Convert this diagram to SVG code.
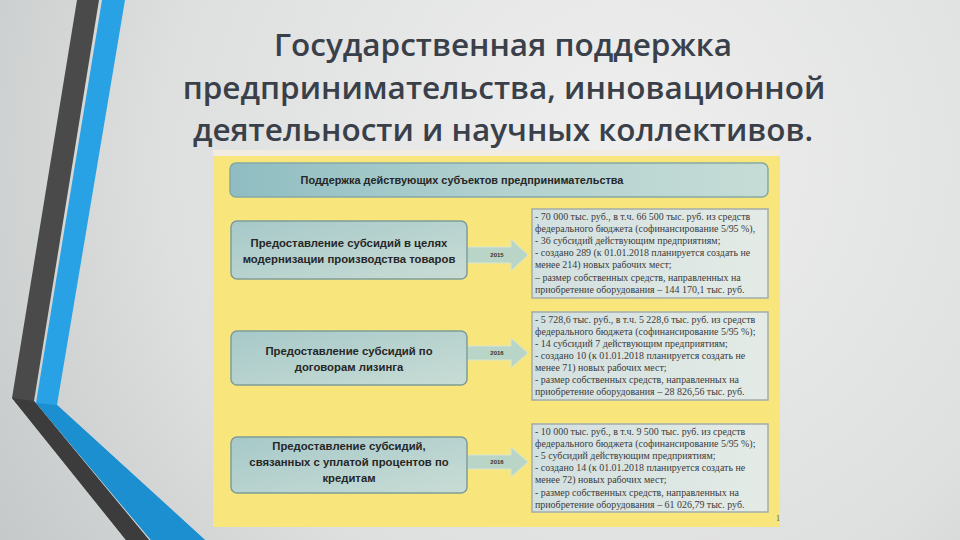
<svg xmlns="http://www.w3.org/2000/svg" width="960" height="540" viewBox="0 0 960 540">
<defs>
<radialGradient id="bg" cx="620" cy="160" r="760" gradientUnits="userSpaceOnUse">
<stop offset="0" stop-color="#efefef"/>
<stop offset="0.6" stop-color="#dedfdf"/>
<stop offset="1" stop-color="#c2c6c6"/>
</radialGradient>
<linearGradient id="hdr" x1="0" y1="0" x2="1" y2="0">
<stop offset="0" stop-color="#8fbdc1"/>
<stop offset="0.5" stop-color="#b2d1cf"/>
<stop offset="1" stop-color="#c6dcd6"/>
</linearGradient>
<linearGradient id="lb" x1="0" y1="0" x2="1" y2="1">
<stop offset="0" stop-color="#a6c9c9"/>
<stop offset="1" stop-color="#c9dcd5"/>
</linearGradient>
<linearGradient id="rb" x1="0" y1="0" x2="1" y2="0">
<stop offset="0" stop-color="#d2e0e0"/>
<stop offset="1" stop-color="#e4ebe6"/>
</linearGradient>
<style>
.title{font-family:"Open Sans","Noto Sans",sans-serif;font-weight:600;font-size:31.5px;fill:#3a4049;text-anchor:middle}
.lbox{fill:url(#lb);stroke:#7f9d98;stroke-width:1.5}
.ltxt{font-family:"Liberation Sans",Arial,sans-serif;font-weight:bold;font-size:11.3px;fill:#262626;text-anchor:middle}
.rbox{fill:url(#rb);stroke:#a3acab;stroke-width:1.5}
.rtxt{font-family:"Liberation Serif","Times New Roman",serif;font-size:9.95px;fill:#3b3b3b}
.arrow{fill:#b9d5c8;stroke:#d7e6cf;stroke-width:1}
.year{font-family:"Liberation Sans",Arial,sans-serif;font-weight:bold;font-size:6px;fill:#333;text-anchor:middle}
</style>
</defs>
<rect x="0" y="0" width="960" height="540" fill="url(#bg)"/>
<g id="decor">
<polygon points="77,0 99,0 34,401 149,540 126,540 12,398" fill="#4a4a4a"/>
<polygon points="102,0 125,0 57,405 205,540 151,540 36,403" fill="#28a2e4"/>
<polygon points="36,403 57,405 205,540 151,540" fill="#1c8fd1"/>
<polygon points="12,398 34,401 149,540 126,540" fill="#3c3c3c"/>
</g>
<g id="title">
<text class="title" x="503" y="56">Государственная поддержка</text>
<text class="title" x="504" y="99">предпринимательства, инновационной</text>
<text class="title" x="503" y="141">деятельности и научных коллективов.</text>
</g>
<g id="scan">
<rect x="213" y="150" width="567" height="7" fill="#f1ebe2"/>
<rect x="213" y="156" width="567" height="371" fill="#f8e67c"/>
<text x="776" y="521" font-family="Liberation Serif,serif" font-size="8" fill="#555">1</text>
</g>
<g id="header">
<rect x="230" y="163" width="538" height="34" rx="6" fill="url(#hdr)" stroke="#86a8a4" stroke-width="1.5"/>
<text x="462" y="184" font-family="Liberation Sans,Arial,sans-serif" font-weight="bold" font-size="10.9" fill="#262626" text-anchor="middle">Поддержка действующих субъектов предпринимательства</text>
</g>
<g id="connectors">
<polygon class="arrow" points="467,247 511,247 511,239 528,255 511,271 511,263 467,263"/>
<text class="year" x="497" y="257">2015</text>
<polygon class="arrow" points="467,346 511,346 511,338 528,353 511,368 511,360 467,360"/>
<text class="year" x="497" y="355">2016</text>
<polygon class="arrow" points="467,455 511,455 511,447 528,462 511,477 511,469 467,469"/>
<text class="year" x="497" y="464">2016</text>
</g>
<g id="left-1">
<rect class="lbox" x="231" y="221" width="236" height="58" rx="6"/>
<text class="ltxt" x="349" y="247">Предоставление субсидий в целях</text>
<text class="ltxt" x="349" y="263">модернизации производства товаров</text>
</g>
<g id="left-2">
<rect class="lbox" x="231" y="331" width="236" height="54" rx="6"/>
<text class="ltxt" x="349" y="355">Предоставление субсидий по</text>
<text class="ltxt" x="349" y="371">договорам лизинга</text>
</g>
<g id="left-3">
<rect class="lbox" x="231" y="437" width="236" height="56" rx="6"/>
<text class="ltxt" x="349" y="450">Предоставление субсидий,</text>
<text class="ltxt" x="349" y="466">связанных с уплатой процентов по</text>
<text class="ltxt" x="349" y="482">кредитам</text>
</g>
<g id="right-1">
<rect class="rbox" x="532" y="209" width="236" height="89"/>
<text class="rtxt" x="535" y="219.5">- 70 000 тыс. руб., в т.ч. 66 500 тыс. руб. из средств</text>
<text class="rtxt" x="535" y="231.7">федерального бюджета (софинансирование 5/95 %),</text>
<text class="rtxt" x="535" y="243.9">- 36 субсидий действующим предприятиям;</text>
<text class="rtxt" x="535" y="256.1">- создано 289 (к 01.01.2018 планируется создать не</text>
<text class="rtxt" x="535" y="268.3">менее 214) новых рабочих мест;</text>
<text class="rtxt" x="535" y="280.5">– размер собственных средств, направленных на</text>
<text class="rtxt" x="535" y="292.7">приобретение оборудования – 144 170,1 тыс. руб.</text>
</g>
<g id="right-2">
<rect class="rbox" x="532" y="312" width="236" height="88"/>
<text class="rtxt" x="535" y="323">- 5 728,6 тыс. руб., в т.ч. 5 228,6 тыс. руб. из средств</text>
<text class="rtxt" x="535" y="335">федерального бюджета (софинансирование 5/95 %);</text>
<text class="rtxt" x="535" y="347">- 14 субсидий 7 действующим предприятиям;</text>
<text class="rtxt" x="535" y="359">- создано 10 (к 01.01.2018 планируется создать не</text>
<text class="rtxt" x="535" y="371">менее 71) новых рабочих мест;</text>
<text class="rtxt" x="535" y="383">- размер собственных средств, направленных на</text>
<text class="rtxt" x="535" y="395">приобретение оборудования – 28 826,56 тыс. руб.</text>
</g>
<g id="right-3">
<rect class="rbox" x="532" y="424" width="236" height="88"/>
<text class="rtxt" x="535" y="434.5">- 10 000 тыс. руб., в т.ч. 9 500 тыс. руб. из средств</text>
<text class="rtxt" x="535" y="446.7">федерального бюджета (софинансирование 5/95 %);</text>
<text class="rtxt" x="535" y="458.9">- 5 субсидий действующим предприятиям;</text>
<text class="rtxt" x="535" y="471.1">- создано 14 (к 01.01.2018 планируется создать не</text>
<text class="rtxt" x="535" y="483.3">менее 72) новых рабочих мест;</text>
<text class="rtxt" x="535" y="495.5">- размер собственных средств, направленных на</text>
<text class="rtxt" x="535" y="507.7">приобретение оборудования – 61 026,79 тыс. руб.</text>
</g>
</svg>
